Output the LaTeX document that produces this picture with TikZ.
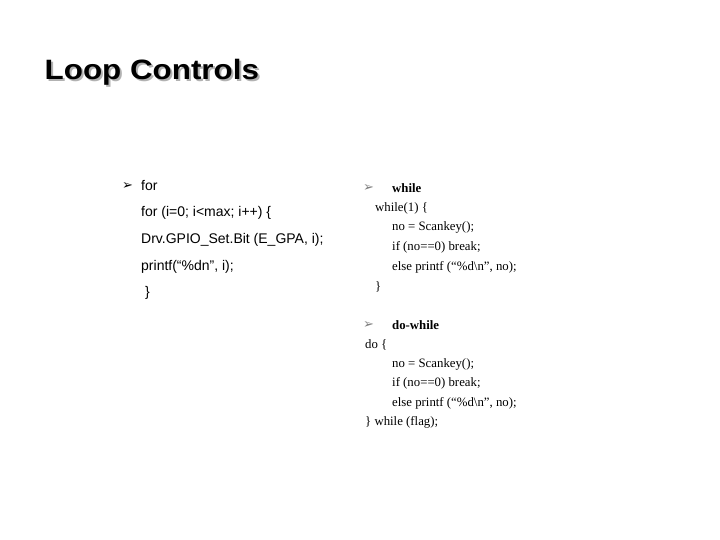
\documentclass[tikz,border=0pt]{standalone}
\usepackage{fontspec}
\setmainfont{Liberation Serif}
\setsansfont{Liberation Sans}
\newfontfamily\djvfont{DejaVu Sans}
\begin{document}
\begin{tikzpicture}[x=1pt,y=-1pt,
  sl/.style={anchor=west,inner sep=0pt,font=\sffamily\fontsize{14}{16}\selectfont},
  rl/.style={anchor=west,inner sep=0pt,font=\rmfamily\fontsize{12.8}{15}\selectfont},
  bul/.style={anchor=west,inner sep=0pt,font=\djvfont\fontsize{13}{15}\selectfont},
  ttl/.style={anchor=west,inner sep=0pt,xscale=1.12,font=\sffamily\bfseries\fontsize{28}{32}\selectfont}]
\useasboundingbox[fill=white] (0,0) rectangle (720,540);
\node[ttl,text=gray!60] (ts) at (46.5,74) {Loop Controls};
\node[ttl] (t) at (44.5,72) {Loop Controls};
\node[bul] (b1) at (122,186) {➢};
\node[sl] (l1) at (141,186) {for};
\node[sl] (l2) at (141,213) {for (i=0; i<max; i++) \{};
\node[sl] (l3) at (141,240) {Drv.GPIO\_Set.Bit (E\_GPA, i);};
\node[sl] (l4) at (141,267) {printf(“\%dn”, i);};
\node[sl] (l5) at (145,293) {\}};
\node[bul,text=gray] (b2) at (363,188) {➢};
\node[rl,font=\rmfamily\bfseries\fontsize{12.8}{15}\selectfont] (r1) at (392,188) {while};
\node[rl] (r2) at (375,208) {while(1) \{};
\node[rl] (r3) at (392,227) {no = Scankey();};
\node[rl] (r4) at (392,247) {if (no==0) break;};
\node[rl] (r5) at (392,267) {else printf (“\%d\textbackslash n”, no);};
\node[rl] (r6) at (375,287) {\}};
\node[bul,text=gray] (b3) at (363,325) {➢};
\node[rl,font=\rmfamily\bfseries\fontsize{12.8}{15}\selectfont] (r7) at (392,325) {do-while};
\node[rl] (r8) at (365,345) {do \{};
\node[rl] (r9) at (392,364) {no = Scankey();};
\node[rl] (r10) at (392,383) {if (no==0) break;};
\node[rl] (r11) at (392,403) {else printf (“\%d\textbackslash n”, no);};
\node[rl] (r12) at (365,422) {\} while (flag);};
\end{tikzpicture}
\end{document}
